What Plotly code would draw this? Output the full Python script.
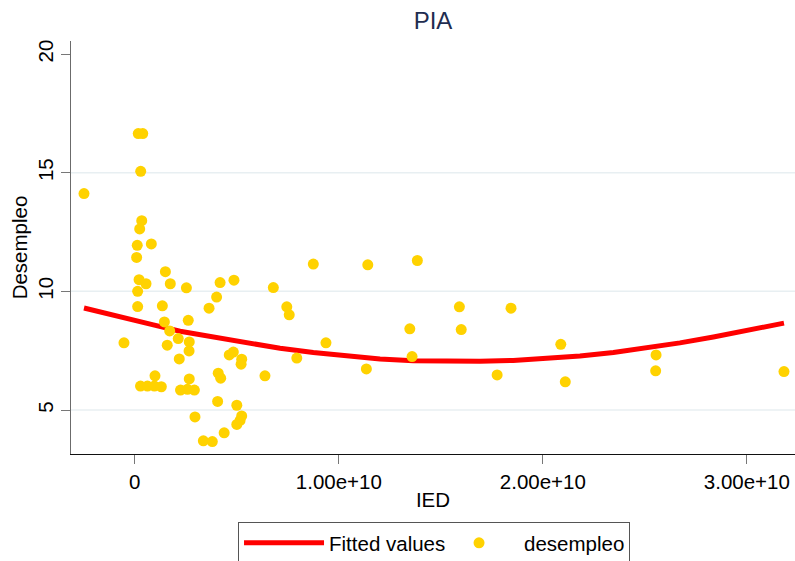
import plotly.graph_objects as go

# ---- data ----
ied = [0.017e10, 0.039e10, 0.029e10, -0.249e10, 0.034e10, 0.024e10, 0.012e10, 0.081e10,
       0.009e10, 0.150e10, 0.021e10, 0.055e10, 0.174e10, 0.253e10, 0.014e10, 0.014e10,
       0.135e10, 0.145e10, 0.262e10, 0.171e10, 0.213e10, 0.267e10, -0.053e10, 0.159e10,
       0.266e10, 0.218e10, 0.099e10, 0.267e10,
       0.028e10, 0.062e10, 0.096e10, 0.130e10, 0.224e10, 0.258e10, 0.292e10,
       0.409e10, 0.421e10, 0.418e10, 0.486e10, 0.679e10, 0.401e10, 0.364e10, 0.745e10,
       0.757e10, 0.463e10, 0.483e10, 0.524e10, 0.521e10, 0.794e10, 0.638e10, 0.406e10,
       0.500e10, 0.295e10, 0.524e10, 0.500e10, 0.516e10, 0.438e10, 0.336e10, 0.380e10,
       0.875e10, 1.142e10, 1.385e10, 1.591e10, 1.844e10, 1.348e10, 1.600e10, 0.937e10,
       2.088e10, 1.359e10, 2.555e10, 1.135e10, 1.776e10, 2.553e10, 2.110e10, 3.182e10]
desempleo = [16.65, 16.65, 15.06, 14.12, 12.98, 12.63, 11.94, 12.00,
             11.43, 10.83, 10.49, 10.32, 10.32, 10.15, 10.00, 9.36,
             9.39, 8.71, 8.78, 8.33, 8.01, 7.87, 7.83, 7.73,
             7.49, 7.15, 6.44, 6.31,
             6.01, 6.01, 6.01, 5.98, 5.84, 5.87, 5.84,
             6.55, 6.34, 10.37, 10.47, 10.16, 9.76, 9.29, 9.35,
             9.01, 7.32, 7.44, 7.14, 6.93, 7.19, 6.44, 5.36,
             5.20, 4.71, 4.75, 4.39, 4.56, 4.04, 3.70, 3.67,
             11.15, 11.12, 11.30, 9.35, 9.29, 8.42, 8.39, 7.83,
             7.77, 7.25, 7.32, 6.73, 6.48, 6.65, 6.19, 6.62]

fit_x = [-0.249e10, -0.0725e10, 0.091e10, 0.222e10, 0.385e10, 0.549e10, 0.712e10, 0.875e10,
         1.039e10, 1.202e10, 1.365e10, 1.529e10, 1.692e10, 1.855e10, 2.019e10, 2.182e10,
         2.346e10, 2.509e10, 2.672e10, 2.836e10, 2.999e10, 3.182e10]
fit_y = [9.30, 8.91, 8.59, 8.32, 8.08, 7.84, 7.60, 7.42,
         7.26, 7.15, 7.08, 7.05, 7.05, 7.09, 7.17, 7.28,
         7.42, 7.60, 7.83, 8.08, 8.35, 8.66]

x_tickvals = [0, 1e10, 2e10, 3e10]
x_ticktext = ["0", "1.00e+10", "2.00e+10", "3.00e+10"]
y_tickvals = [5, 10, 15, 20]
y_ticktext = ["5", "10", "15", "20"]
grid_vals = [5, 10, 15]

FONT = "Liberation Sans, Arial, sans-serif"

fig = go.Figure()
fig.add_trace(go.Scatter(x=fit_x, y=fit_y, mode="lines", name="Fitted values",
                         line=dict(color="#ff0000", width=5)))
fig.add_trace(go.Scatter(x=ied, y=desempleo, mode="markers", name="desempleo",
                         marker=dict(color="#ffd200", size=11, line=dict(width=0))))

shapes = [dict(type="line", xref="paper", x0=0, x1=1, yref="y", y0=v, y1=v,
               line=dict(color="#e8eff2", width=1.5), layer="below") for v in grid_vals]

fig.update_layout(
    width=795, height=561,
    margin=dict(l=71, r=0, t=41, b=107, autoexpand=False),
    paper_bgcolor="white", plot_bgcolor="white",
    font=dict(family=FONT, size=20.5, color="#000000"),
    title=dict(text="PIA", x=0.5, xref="paper", y=1 - 21 / 561, yref="container",
               xanchor="center", yanchor="middle",
               font=dict(family=FONT, size=24, color="#1f2d50")),
    shapes=shapes,
    xaxis=dict(range=[-0.3127e10, 3.236e10], tickvals=x_tickvals, ticktext=x_ticktext,
               showgrid=False, zeroline=False, showline=True, linecolor="#111111",
               linewidth=1.3, ticks="outside", ticklen=9, tickcolor="#777777", tickwidth=1.3,
               automargin=False,
               title=dict(text="IED", standoff=0, font=dict(size=20.5))),
    yaxis=dict(range=[3.146, 20.55], tickvals=y_tickvals, ticktext=y_ticktext,
               tickangle=-90, showgrid=False, zeroline=False, showline=True,
               linecolor="#6b6b6b", linewidth=1.3, ticks="outside", ticklen=9,
               tickcolor="#777777", tickwidth=1.3, automargin=False,
               title=dict(text="Desempleo", standoff=0, font=dict(size=20.5))),
    showlegend=True,
    legend=dict(orientation="h", x=0.2307, xanchor="left", y=-0.1646, yanchor="top",
                bordercolor="#555555", borderwidth=1, bgcolor="white",
                itemwidth=80, entrywidth=100, entrywidthmode="pixels",
                font=dict(size=20.5), traceorder="normal"),
)

fig.write_html("out.html", config={"displayModeBar": False},
               post_script="document.body.style.margin='0';document.body.style.overflow='hidden';")
